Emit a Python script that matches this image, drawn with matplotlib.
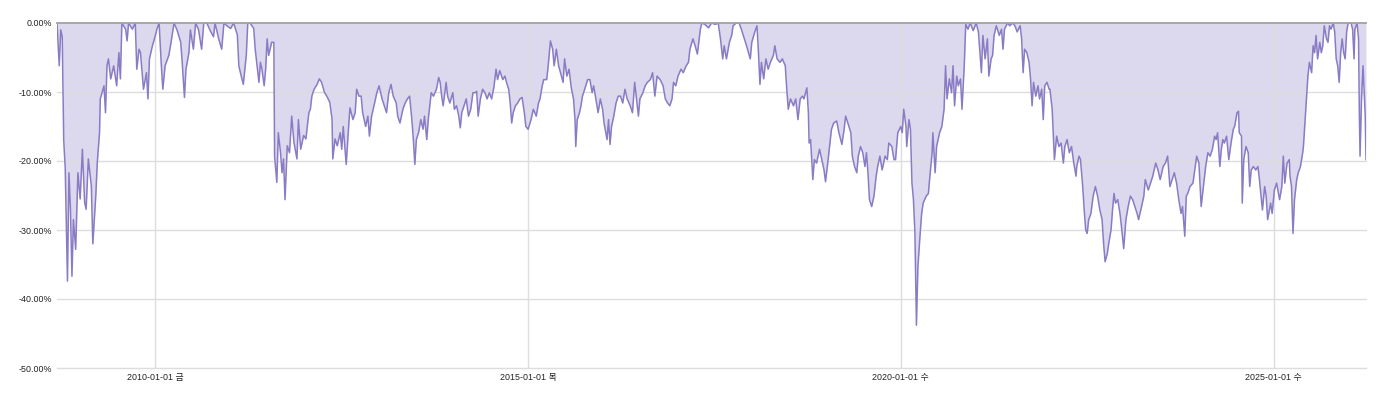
import matplotlib
matplotlib.use("Agg")
import matplotlib.pyplot as plt
import pandas as pd

# drawdown series (decimal year, drawdown %)
years = [
    2008.68, 2008.71, 2008.73, 2008.75, 2008.77, 2008.79, 2008.82, 2008.84, 2008.86, 2008.88,
    2008.90, 2008.93, 2008.96, 2008.99, 2009.02, 2009.05, 2009.07, 2009.10, 2009.14, 2009.16,
    2009.20, 2009.22, 2009.25, 2009.26, 2009.31, 2009.33, 2009.35, 2009.37, 2009.40, 2009.44,
    2009.48, 2009.51, 2009.53, 2009.55, 2009.60, 2009.62, 2009.64, 2009.69, 2009.73, 2009.75,
    2009.78, 2009.80, 2009.84, 2009.88, 2009.90, 2009.92, 2009.96, 2010.00, 2010.02, 2010.05,
    2010.08, 2010.10, 2010.13, 2010.18, 2010.21, 2010.25, 2010.29, 2010.34, 2010.36, 2010.39,
    2010.41, 2010.45, 2010.47, 2010.51, 2010.54, 2010.58, 2010.62, 2010.65, 2010.69, 2010.74,
    2010.78, 2010.80, 2010.85, 2010.89, 2010.92, 2010.96, 2011.01, 2011.05, 2011.10, 2011.12,
    2011.15, 2011.18, 2011.22, 2011.24, 2011.27, 2011.32, 2011.34, 2011.36, 2011.39, 2011.41,
    2011.43, 2011.46, 2011.48, 2011.50, 2011.52, 2011.54, 2011.56, 2011.59, 2011.60, 2011.63,
    2011.65, 2011.68, 2011.70, 2011.72, 2011.74, 2011.77, 2011.80, 2011.83, 2011.86, 2011.90,
    2011.92, 2011.95, 2011.99, 2012.02, 2012.06, 2012.08, 2012.10, 2012.13, 2012.17, 2012.20,
    2012.23, 2012.27, 2012.30, 2012.34, 2012.37, 2012.38, 2012.41, 2012.44,
    2012.48, 2012.50, 2012.52, 2012.56, 2012.59, 2012.61, 2012.65, 2012.68, 2012.70, 2012.73,
    2012.76, 2012.78, 2012.82, 2012.85, 2012.87, 2012.90, 2012.94, 2012.97, 2013.00, 2013.04,
    2013.07, 2013.10, 2013.13, 2013.16, 2013.19, 2013.23, 2013.25, 2013.28, 2013.32, 2013.35,
    2013.38, 2013.41, 2013.44, 2013.46, 2013.48, 2013.50, 2013.53, 2013.56, 2013.59, 2013.61,
    2013.64, 2013.66, 2013.70, 2013.73, 2013.77, 2013.80, 2013.82, 2013.84, 2013.86, 2013.90,
    2013.92, 2013.95, 2013.99, 2014.01, 2014.04, 2014.07, 2014.09, 2014.11, 2014.14, 2014.17,
    2014.20, 2014.23, 2014.26, 2014.29, 2014.31, 2014.33, 2014.36, 2014.39, 2014.42, 2014.45,
    2014.48, 2014.51, 2014.54, 2014.57, 2014.59, 2014.62, 2014.66, 2014.69, 2014.71, 2014.74,
    2014.76, 2014.78, 2014.80, 2014.83, 2014.86, 2014.89, 2014.92, 2014.95, 2014.97, 2015.00,
    2015.04, 2015.07, 2015.11, 2015.14, 2015.16, 2015.19, 2015.21, 2015.25, 2015.27, 2015.30,
    2015.33, 2015.35, 2015.38, 2015.41, 2015.44, 2015.47, 2015.49, 2015.52, 2015.55, 2015.58,
    2015.61, 2015.63, 2015.64, 2015.66, 2015.69, 2015.71, 2015.73, 2015.76, 2015.80, 2015.83,
    2015.86, 2015.88, 2015.91, 2015.94, 2015.97, 2016.00, 2016.02, 2016.06, 2016.08, 2016.10,
    2016.12, 2016.15, 2016.18, 2016.21, 2016.24, 2016.27, 2016.30, 2016.33, 2016.37, 2016.40,
    2016.43, 2016.46, 2016.48, 2016.50, 2016.54, 2016.57, 2016.60, 2016.64, 2016.67, 2016.70,
    2016.73, 2016.77, 2016.81, 2016.84, 2016.87, 2016.90, 2016.93, 2016.95, 2016.98, 2017.01,
    2017.05, 2017.08, 2017.12, 2017.15, 2017.17, 2017.21, 2017.24, 2017.27, 2017.30,
    2017.31, 2017.33, 2017.37, 2017.42, 2017.46, 2017.51, 2017.55, 2017.58, 2017.61, 2017.63,
    2017.66, 2017.70, 2017.73, 2017.75, 2017.79, 2017.83, 2017.86, 2017.90, 2017.93, 2017.98,
    2018.00, 2018.04, 2018.07, 2018.09, 2018.11, 2018.13, 2018.16, 2018.19, 2018.22, 2018.25,
    2018.29, 2018.31, 2018.34, 2018.38, 2018.41, 2018.45, 2018.47, 2018.49, 2018.52, 2018.56,
    2018.59, 2018.62, 2018.65, 2018.68, 2018.70, 2018.74, 2018.76, 2018.77, 2018.79, 2018.82,
    2018.84, 2018.87, 2018.91, 2018.94, 2018.97, 2018.99, 2019.02, 2019.04, 2019.07, 2019.10,
    2019.14, 2019.17, 2019.21, 2019.24, 2019.26, 2019.29, 2019.33, 2019.35, 2019.38, 2019.41,
    2019.43, 2019.46, 2019.49, 2019.52, 2019.54, 2019.56, 2019.58, 2019.61, 2019.64, 2019.67,
    2019.69, 2019.72, 2019.75, 2019.79, 2019.82, 2019.84, 2019.88, 2019.91, 2019.93, 2019.96,
    2020.00, 2020.02, 2020.04, 2020.07, 2020.08, 2020.11, 2020.13, 2020.15, 2020.17, 2020.19,
    2020.21, 2020.23, 2020.26, 2020.28, 2020.30, 2020.34, 2020.37, 2020.39, 2020.42, 2020.43,
    2020.46, 2020.48, 2020.50, 2020.52, 2020.55, 2020.58, 2020.60, 2020.62, 2020.65, 2020.68,
    2020.70, 2020.72, 2020.75, 2020.77, 2020.80, 2020.82, 2020.85, 2020.87, 2020.90, 2020.93,
    2020.97, 2021.01, 2021.04, 2021.06, 2021.08, 2021.10, 2021.13, 2021.16, 2021.18, 2021.21,
    2021.23, 2021.25, 2021.28, 2021.32, 2021.35, 2021.37, 2021.39, 2021.43, 2021.46, 2021.50,
    2021.53, 2021.56, 2021.60, 2021.62, 2021.64, 2021.66, 2021.69, 2021.72, 2021.74, 2021.76,
    2021.78, 2021.81, 2021.84, 2021.86, 2021.89, 2021.91, 2021.93, 2021.96, 2021.99,
    2022.00, 2022.03, 2022.06, 2022.09, 2022.12, 2022.15, 2022.18, 2022.20, 2022.23, 2022.26,
    2022.29, 2022.32, 2022.35, 2022.36, 2022.39, 2022.41, 2022.44, 2022.46, 2022.48, 2022.50,
    2022.52, 2022.55, 2022.58, 2022.61, 2022.64, 2022.67, 2022.70, 2022.72, 2022.74, 2022.77,
    2022.79, 2022.82, 2022.84, 2022.86, 2022.88, 2022.91, 2022.94, 2022.96, 2022.99, 2023.02,
    2023.05, 2023.08, 2023.11, 2023.14, 2023.17, 2023.19, 2023.23, 2023.26, 2023.28, 2023.32,
    2023.35, 2023.38, 2023.42, 2023.45, 2023.48, 2023.52, 2023.55, 2023.58, 2023.61, 2023.64,
    2023.67, 2023.70, 2023.73, 2023.76, 2023.78, 2023.81, 2023.83, 2023.85, 2023.88, 2023.92,
    2023.95, 2023.97, 2024.00, 2024.03, 2024.06, 2024.09, 2024.12, 2024.15, 2024.18, 2024.21,
    2024.23, 2024.25, 2024.28, 2024.30, 2024.32, 2024.34, 2024.37, 2024.40, 2024.43, 2024.46,
    2024.48, 2024.51, 2024.53, 2024.54, 2024.57, 2024.58, 2024.60, 2024.63, 2024.66, 2024.68,
    2024.70, 2024.73, 2024.76, 2024.79, 2024.81, 2024.85, 2024.88, 2024.90, 2024.92, 2024.96,
    2024.98, 2025.01, 2025.04, 2025.08, 2025.11, 2025.13, 2025.15, 2025.18, 2025.21, 2025.22,
    2025.24, 2025.26, 2025.28, 2025.31, 2025.33, 2025.36, 2025.39, 2025.40, 2025.42, 2025.44,
    2025.46, 2025.48, 2025.51, 2025.53, 2025.55, 2025.57, 2025.59, 2025.62, 2025.64, 2025.66,
    2025.68, 2025.71, 2025.73, 2025.75, 2025.77, 2025.80, 2025.82, 2025.84, 2025.86, 2025.88,
    2025.90, 2025.92, 2025.94, 2025.96, 2025.98, 2026.00, 2026.04, 2026.06, 2026.08, 2026.09,
    2026.12, 2026.14, 2026.15, 2026.16, 2026.18, 2026.20, 2026.22, 2026.23, 2026.24,
]

drawdown = [
    0.0, -6.2, -1.0, -2.0, -17.0, -21.0, -37.4, -21.7, -27.0, -36.7,
    -28.5, -32.8, -21.7, -25.5, -18.3, -26.0, -27.0, -19.7, -23.6, -32.0,
    -25.0, -20.2, -15.9, -11.0, -9.1, -13.0, -6.2, -5.2, -8.1, -6.2,
    -9.1, -4.3, -8.1, 0.0, -0.9, -2.6, 0.0, -0.9, 0.0, -6.7,
    -3.8, -4.3, -9.6, -7.2, -11.0, -5.2, -3.3, -1.8, -0.9, 0.0,
    -6.2, -9.6, -6.2, -4.7, -2.8, 0.0, -1.0, -2.8, -5.7, -10.8,
    -6.7, -4.3, -1.0, -3.8, 0.0, -1.0, -3.8, 0.0, 0.0, -1.2,
    -2.0, 0.0, -2.3, -3.8, 0.0, -0.4, -0.8, 0.0, -1.7, -6.2,
    -7.6, -8.9, -4.7, 0.0, 0.0, -0.8, -3.8, -5.7, -8.6, -5.7,
    -6.7, -9.1, -6.7, -2.3, -4.7, -3.8, -2.8, -2.8, -19.3, -23.1,
    -15.9, -18.8, -21.7, -19.7, -25.6, -17.8, -18.8, -13.5, -17.3, -19.7,
    -14.0, -18.3, -16.3, -16.8, -13.0, -12.5, -10.6, -9.6, -8.9, -8.1,
    -8.6, -10.1, -10.6, -11.5, -13.9, -19.7, -16.8, -17.8,
    -15.9, -18.3, -15.0, -20.5, -15.4, -12.3, -14.0, -13.0, -9.6, -10.6,
    -10.6, -13.0, -15.0, -13.5, -16.4, -13.5, -11.6, -10.1, -9.1, -11.0,
    -12.0, -13.0, -10.1, -8.9, -10.6, -11.6, -13.5, -14.5, -12.5, -11.6,
    -11.0, -10.6, -14.0, -16.9, -20.5, -16.9, -15.9, -14.0, -15.4, -13.5,
    -16.9, -14.0, -10.1, -10.6, -9.6, -7.9, -8.6, -10.6, -12.0, -8.6,
    -10.6, -11.6, -10.1, -12.5, -12.0, -13.5, -15.2, -13.0, -12.0, -11.0,
    -13.5, -12.5, -10.1, -10.1, -9.9, -13.5, -11.0, -9.6, -10.1, -11.0,
    -10.1, -11.0, -9.4, -6.7, -8.2, -6.9, -8.2, -7.7, -8.6, -9.6,
    -11.6, -14.5, -13.0, -12.0, -11.6, -11.0, -10.8, -13.0, -15.0, -15.4,
    -14.0, -12.5, -13.5, -11.6, -11.0, -9.1, -8.2, -8.2, -6.2, -2.6,
    -3.8, -6.2, -3.8, -6.2, -7.4, -8.6, -5.2, -7.7, -6.7, -9.4,
    -11.0, -14.0, -17.9, -14.0, -13.0, -12.0, -10.6, -9.6, -8.2, -8.2,
    -10.1, -9.1, -11.0, -13.0, -11.0, -12.5, -14.5, -16.9, -14.0, -17.6,
    -15.0, -13.5, -11.6, -10.6, -10.6, -11.6, -9.6, -11.0, -12.0, -13.0,
    -8.6, -11.6, -13.5, -11.0, -10.1, -9.1, -8.6, -8.2, -7.2, -10.6,
    -7.7, -8.2, -9.1, -11.0, -11.6, -12.0, -11.0, -8.6, -9.1, -7.7,
    -6.7, -7.2, -6.2, -5.7, -3.8, -2.3, -3.3, -4.5, -1.8,
    -0.9, 0.0, -0.2, -0.7, 0.0, -0.2, 0.0, -2.3, -5.2, -3.3,
    -5.2, -2.8, -1.8, -0.4, 0.0, 0.0, -0.9, -2.3, -3.3, -5.2,
    -2.8, -1.3, -0.4, -4.3, -8.9, -5.7, -8.1, -5.2, -6.7, -5.7,
    -4.7, -3.3, -5.2, -5.7, -5.2, -6.2, -9.6, -12.5, -11.0, -12.0,
    -11.0, -14.0, -11.0, -10.6, -11.0, -9.4, -13.0, -17.4, -16.9, -22.7,
    -19.8, -20.3, -18.3, -19.8, -21.3, -23.0, -20.3, -18.3, -15.4, -14.5,
    -14.2, -15.9, -17.6, -15.4, -13.5, -14.5, -15.9, -19.3, -20.8, -21.7,
    -19.3, -17.9, -18.8, -20.8, -18.8, -21.7, -25.6, -26.6, -25.1, -22.2,
    -20.8, -19.3, -21.3, -19.3, -19.8, -17.4, -17.9, -19.8, -19.8, -15.9,
    -15.0, -15.9, -12.5, -15.0, -17.9, -14.0, -15.4, -23.2, -25.6, -30.5,
    -43.8, -35.3, -30.5, -27.6, -26.1, -25.1, -24.7, -22.2, -18.8, -15.9,
    -21.7, -17.9, -16.9, -15.9, -15.0, -12.5, -6.2, -11.0, -8.1, -10.1,
    -6.2, -12.0, -7.7, -9.1, -8.1, -12.5, -6.2, -0.2, -0.9, 0.0,
    -1.1, 0.0, -1.3, -4.3, -7.2, -1.8, -5.2, -2.3, -7.7, -5.2,
    -4.7, -1.8, -0.4, -1.8, -0.9, -3.8, -0.9, 0.0, -0.4, 0.0,
    -0.4, -1.3, -0.4, -2.3, -7.2, -3.8, -4.3, -5.7, -8.1, -12.0,
    -8.6, -10.6, -9.1, -11.0, -9.6, -14.0, -9.1, -8.6, -9.6,
    -9.6, -12.5, -19.8, -16.4, -17.9, -17.4, -20.3, -17.9, -16.9, -18.8,
    -17.9, -20.3, -22.2, -20.8, -19.3, -19.8, -23.7, -27.1, -30.0, -30.5,
    -28.5, -27.6, -25.1, -23.7, -25.1, -27.1, -28.5, -31.9, -34.6, -33.4,
    -31.9, -30.0, -27.1, -24.7, -26.1, -25.6, -27.6, -29.5, -32.7, -28.5,
    -26.6, -25.1, -25.6, -26.6, -27.6, -28.5, -26.6, -25.1, -22.7, -24.2,
    -23.2, -22.2, -20.3, -21.3, -22.7, -20.8, -20.3, -19.3, -23.7, -22.7,
    -21.7, -23.2, -25.6, -27.6, -26.6, -30.9, -25.1, -24.7, -23.7, -23.2,
    -20.8, -19.3, -20.3, -26.6, -23.7, -20.8, -18.8, -19.3, -18.3, -16.4,
    -16.9, -15.9, -20.8, -18.3, -16.9, -17.4, -16.4, -19.8, -17.4, -15.4,
    -14.9, -13.0, -12.8, -15.9, -16.4, -26.1, -19.8, -17.9, -18.8, -23.7,
    -21.3, -20.8, -21.3, -20.8, -22.7, -27.1, -23.7, -25.1, -28.5, -26.1,
    -27.6, -24.2, -23.2, -25.6, -23.7, -19.3, -23.2, -20.3, -19.8, -22.2,
    -23.7, -30.5, -25.6, -22.7, -21.7, -20.8, -18.8, -17.9, -14.5, -11.0,
    -7.7, -5.7, -7.2, -3.3, -4.3, -1.8, -5.2, -2.8, -4.3, -3.3,
    -0.4, -2.3, -2.8, -0.4, -0.9, 0.0, -1.3, -5.2, -6.2, -8.6,
    -4.3, -2.3, -4.3, -5.2, -1.3, 0.0, 0.0, -0.9, -5.2, -0.9,
    0.0, -2.3, -12.5, -19.3, -11.0, -6.2, -11.0, -13.5, -19.8,
]

tick_dates = ["2010-01-01", "2015-01-01", "2020-01-01", "2025-01-01"]
tick_labels = ["2010-01-01 금", "2015-01-01 목", "2020-01-01 수", "2025-01-01 수"]
y_ticks = [0, -10, -20, -30, -40, -50]

assert len(years) == len(drawdown)


def year_to_date(y):
    yr = int(y)
    start = pd.Timestamp(yr, 1, 1)
    end = pd.Timestamp(yr + 1, 1, 1)
    return start + (end - start) * (y - yr)


dates = [year_to_date(y) for y in years]

fig = plt.figure(figsize=(13.84, 3.99), dpi=100)
ax = fig.add_axes([57 / 1384, 1 - 368 / 399, (1366 - 57) / 1384, (368 - 23) / 399])

line_col = "#8a7cc4"
fill_col = "#dcd8ed"

ax.fill_between(dates, drawdown, 0, color=fill_col, linewidth=0, zorder=1)
ax.plot(dates, drawdown, color=line_col, linewidth=1.1, zorder=3)

ax.set_xlim(dates[0], dates[-1])
ax.set_ylim(-50, 0)

# grid
for yv in y_ticks[1:]:
    ax.axhline(yv, color="#dddddd", linewidth=1, zorder=2, clip_on=False)
for d in tick_dates:
    ax.axvline(pd.Timestamp(d), color="#dddddd", linewidth=1, zorder=2)
ax.axhline(0, color="#a0a0a0", linewidth=1.3, zorder=4, clip_on=False)

for s in ax.spines.values():
    s.set_visible(False)

fonts = ["Liberation Sans", "Noto Sans CJK KR", "DejaVu Sans"]
ax.set_yticks(y_ticks)
ax.set_yticklabels(["%.2f%%" % v for v in y_ticks], family=fonts, fontsize=6.4, color="#222222")
ax.set_xticks([pd.Timestamp(d) for d in tick_dates])
ax.set_xticklabels(tick_labels, family=fonts, fontsize=6.4, color="#222222")
ax.tick_params(axis="both", length=0)
ax.tick_params(axis="y", pad=3.6)
ax.tick_params(axis="x", pad=3.5)

fig.savefig("out.png", dpi=100)
